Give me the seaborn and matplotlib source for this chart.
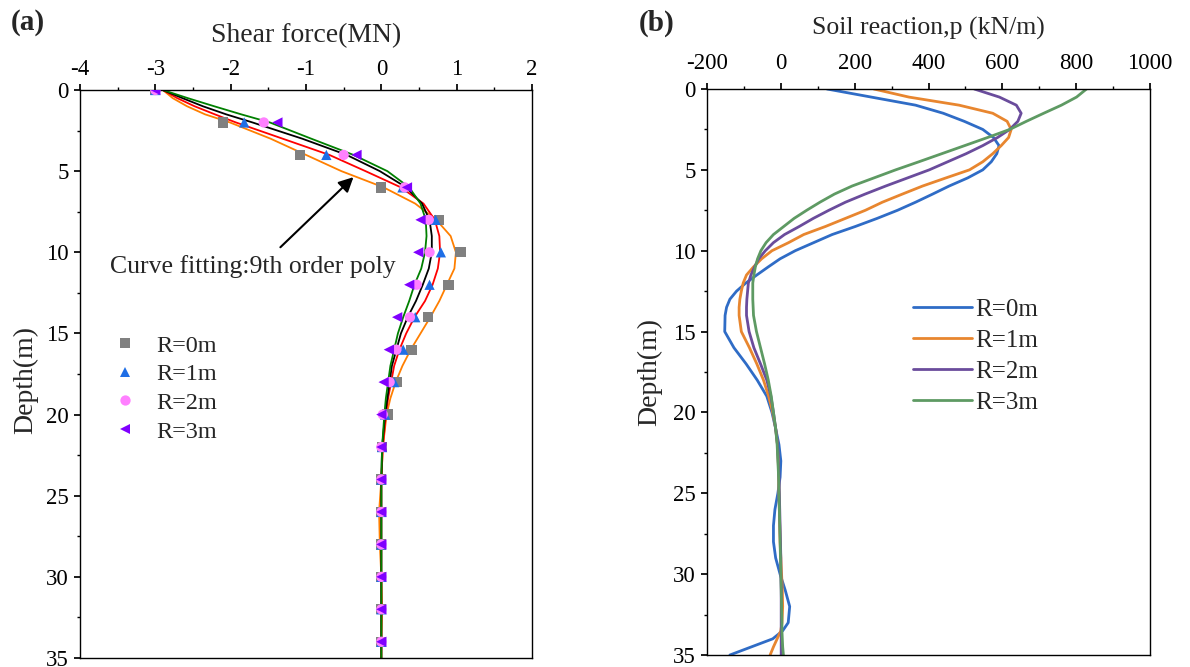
import numpy as np
import pandas as pd
import matplotlib
matplotlib.use("Agg")
import matplotlib.pyplot as plt
import seaborn as sns
from matplotlib.ticker import MultipleLocator

# ---------------- data: panel (a) shear force ----------------
marker_depth = [0, 2, 4, 6, 8, 10, 12, 14, 16, 18, 20, 22, 24, 26, 28, 30, 32, 34]
shear_R0 = [-3.00, -2.10, -1.08, 0.00, 0.77, 1.05, 0.89, 0.62, 0.40, 0.21, 0.08, 0.01, 0.0, 0.0, 0.0, 0.0, 0.0, 0.0]
shear_R1 = [-3.00, -1.82, -0.73, 0.28, 0.72, 0.79, 0.64, 0.45, 0.29, 0.17, 0.05, 0.01, 0.0, 0.0, 0.0, 0.0, 0.0, 0.0]
shear_R2 = [-3.00, -1.56, -0.50, 0.31, 0.63, 0.64, 0.47, 0.38, 0.20, 0.11, 0.02, 0.00, 0.0, 0.0, 0.0, 0.0, 0.0, 0.0]
shear_R3 = [-3.00, -1.38, -0.33, 0.34, 0.52, 0.49, 0.37, 0.21, 0.10, 0.03, 0.00, 0.00, 0.0, 0.0, 0.0, 0.0, 0.0, 0.0]

fit_depth = [0, 0.5, 1, 1.5, 2, 3, 4, 5, 6, 7, 8, 9, 10, 11, 12, 13, 14, 15, 16, 17, 18, 19, 20,
             22, 24, 26, 28, 30, 32, 34, 35]
fit_R0 = [-2.90, -2.77, -2.58, -2.34, -2.01, -1.47, -1.00, -0.53, 0.03, 0.45, 0.73, 0.92, 0.99, 0.97,
          0.87, 0.77, 0.65, 0.52, 0.39, 0.28, 0.19, 0.12, 0.07, 0.02, 0.0, -0.03, -0.02, 0.0, 0.01, 0.0, 0.0]
fit_R1 = [-2.90, -2.71, -2.48, -2.21, -1.93, -1.31, -0.69, -0.21, 0.26, 0.56, 0.71, 0.77, 0.78, 0.75,
          0.68, 0.58, 0.44, 0.33, 0.24, 0.17, 0.13, 0.09, 0.06, 0.02, 0.0, 0.0, 0.0, 0.0, 0.0, 0.0, 0.0]
fit_R2 = [-2.90, -2.64, -2.37, -2.06, -1.71, -1.05, -0.46, -0.02, 0.33, 0.54, 0.64, 0.67, 0.67, 0.63,
          0.55, 0.46, 0.35, 0.26, 0.20, 0.14, 0.11, 0.08, 0.05, 0.01, 0.0, 0.0, 0.0, 0.0, 0.0, 0.0, 0.0]
fit_R3 = [-2.90, -2.57, -2.22, -1.86, -1.48, -0.93, -0.37, 0.08, 0.37, 0.52, 0.59, 0.60, 0.58, 0.53,
          0.44, 0.37, 0.29, 0.22, 0.17, 0.12, 0.09, 0.06, 0.04, 0.01, 0.0, 0.0, 0.0, 0.0, 0.0, 0.0, 0.0]

# ---------------- data: panel (b) soil reaction ----------------
p_depth = [0, 0.5, 1, 1.5, 2, 2.5, 3, 3.5, 4, 4.5, 5, 5.5, 6, 6.5, 7, 7.5, 8, 8.5, 9, 9.5, 10, 10.5,
           11, 11.5, 12, 12.5, 13, 13.5, 14, 15, 16, 17, 18, 19, 20, 21, 22, 23, 24, 25, 26, 27, 28,
           29, 30, 31, 32, 33, 33.5, 34, 34.5, 35]
p_R0 = [125, 245, 365, 440, 497, 547, 576, 591, 585, 570, 547, 506, 456, 411, 365, 316, 261, 202, 139,
        89, 39, -2, -34, -65, -95, -120, -138, -147, -151, -152, -127, -94, -64, -38, -24, -14, -5, 0,
        -2, -8, -16, -20, -20, -14, -2, 12, 24, 20, 5, -22, -80, -138]
p_R1 = [252, 347, 483, 574, 613, 624, 617, 597, 574, 547, 511, 447, 384, 329, 275, 229, 175, 121, 62,
        21, -24, -52, -74, -93, -102, -107, -111, -113, -113, -107, -85, -65, -47, -33, -22, -14, -9,
        -7, -6, -5, -4, -3, -2, 0, 2, 4, 5, 3, 0, -10, -20, -29]
p_R2 = [524, 592, 638, 651, 642, 620, 587, 547, 502, 452, 402, 343, 284, 228, 175, 130, 88, 50, 10,
        -20, -42, -60, -71, -81, -88, -90, -92, -93, -93, -86, -73, -55, -38, -27, -20, -14, -9, -7,
        -5, -4, -3, -2, -1, 0, 0, 1, 1, 1, 1, 1, 1, 1]
p_R3 = [828, 801, 760, 712, 665, 620, 560, 498, 436, 374, 311, 252, 193, 145, 106, 70, 36, 8, -20,
        -40, -54, -63, -69, -73, -76, -76, -76, -75, -74, -66, -55, -44, -34, -26, -20, -14, -10, -8,
        -6, -5, -4, -3, -2, -1, 0, 1, 2, 3, 3, 4, 5, 7]

labels = ["R=0m", "R=1m", "R=2m", "R=3m"]
x_ticks_a = [-4, -3, -2, -1, 0, 1, 2]
x_ticks_b = [-200, 0, 200, 400, 600, 800, 1000]
y_ticks = [0, 5, 10, 15, 20, 25, 30, 35]

# ---------------- style ----------------
sns.set_theme(style="ticks")
plt.rcParams["font.family"] = ["Liberation Serif", "DejaVu Serif"]
plt.rcParams["axes.unicode_minus"] = False
plt.rcParams["axes.linewidth"] = 1.0
plt.rcParams["xtick.major.size"] = 4.5
plt.rcParams["ytick.major.size"] = 4.5
plt.rcParams["xtick.minor.size"] = 2.5
plt.rcParams["ytick.minor.size"] = 2.5
plt.rcParams["xtick.color"] = "black"
plt.rcParams["ytick.color"] = "black"
plt.rcParams["axes.edgecolor"] = "black"

FS_TICK = 16.5

fig = plt.figure(figsize=(11.9, 6.67), dpi=100)
ax1 = fig.add_axes([80 / 1190, 1 - 658 / 667, 452 / 1190, 568 / 667])
ax2 = fig.add_axes([707 / 1190, 1 - 655 / 667, 443 / 1190, 566 / 667])

# ---------------- panel (a) ----------------
fit_df = pd.concat([
    pd.DataFrame({"depth": fit_depth, "shear": v, "series": f"fit {lab}"})
    for v, lab in zip([fit_R0, fit_R1, fit_R2, fit_R3], labels)
])
fit_palette = {"fit R=0m": "#FF7F00", "fit R=1m": "#FF0000", "fit R=2m": "#000000", "fit R=3m": "#008000"}
sns.lineplot(data=fit_df, x="shear", y="depth", hue="series", palette=fit_palette,
             estimator=None, sort=False, linewidth=1.3, legend=False, ax=ax1, zorder=2)

pt_df = pd.concat([
    pd.DataFrame({"depth": marker_depth, "shear": v, "R": lab})
    for v, lab in zip([shear_R0, shear_R1, shear_R2, shear_R3], labels)
])
pt_palette = {"R=0m": "#808080", "R=1m": "#1E6EE6", "R=2m": "#FF80FF", "R=3m": "#8000FF"}
pt_markers = {"R=0m": "s", "R=1m": "^", "R=2m": "o", "R=3m": "<"}
sns.scatterplot(data=pt_df, x="shear", y="depth", hue="R", style="R", palette=pt_palette,
                markers=pt_markers, s=55, linewidth=0, ax=ax1, zorder=3)

ax1.set_xlim(-4, 2)
ax1.set_ylim(35, 0)
ax1.set_xticks(x_ticks_a)
ax1.set_yticks(y_ticks)
ax1.xaxis.set_minor_locator(MultipleLocator(0.5))
ax1.yaxis.set_minor_locator(MultipleLocator(2.5))
ax1.xaxis.set_ticks_position("top")
ax1.xaxis.set_label_position("top")
ax1.tick_params(axis="both", which="both", direction="out", labelsize=FS_TICK)
ax1.tick_params(axis="x", which="major", pad=3)
ax1.set_xlabel("Shear force(MN)", fontsize=20, labelpad=12)
ax1.set_ylabel("Depth(m)", fontsize=20)
ax1.yaxis.set_label_coords(-0.092, 0.49)
for s in ax1.spines.values():
    s.set_visible(True)

sns.move_legend(ax1, loc="upper left", bbox_to_anchor=(0.024, 0.608), frameon=False, title=None,
                fontsize=17.5, handlelength=1.0, handletextpad=0.78, labelspacing=0.276,
                markerscale=1.0)

ax1.annotate("", xy=(-0.37, 5.37), xytext=(-1.34, 9.69),
             arrowprops=dict(arrowstyle="-|>", color="black", lw=1.5, mutation_scale=22,
                             shrinkA=0, shrinkB=0))
ax1.text(-1.70, 10.85, "Curve fitting:9th order poly", ha="center", va="center", fontsize=18.5)

# ---------------- panel (b) ----------------
p_df = pd.concat([
    pd.DataFrame({"depth": p_depth, "p": v, "R": lab})
    for v, lab in zip([p_R0, p_R1, p_R2, p_R3], labels)
])
p_palette = {"R=0m": "#2F6CC6", "R=1m": "#E8862F", "R=2m": "#6A4C9C", "R=3m": "#5E9A63"}
sns.lineplot(data=p_df, x="p", y="depth", hue="R", palette=p_palette, estimator=None, sort=False,
             linewidth=2.0, ax=ax2)

ax2.set_xlim(-200, 1000)
ax2.set_ylim(35, 0)
ax2.set_xticks(x_ticks_b)
ax2.set_yticks(y_ticks)
ax2.xaxis.set_minor_locator(MultipleLocator(100))
ax2.yaxis.set_minor_locator(MultipleLocator(2.5))
ax2.xaxis.set_ticks_position("top")
ax2.xaxis.set_label_position("top")
ax2.tick_params(axis="both", which="both", direction="out", labelsize=FS_TICK)
ax2.tick_params(axis="x", which="major", pad=6)
ax2.set_xlabel("Soil reaction,p (kN/m)", fontsize=18.5, labelpad=13.5)
ax2.set_ylabel("Depth(m)", fontsize=20)
ax2.yaxis.set_label_coords(-0.102, 0.5)
for s in ax2.spines.values():
    s.set_visible(True)

sns.move_legend(ax2, loc="upper left", bbox_to_anchor=(0.414, 0.670), frameon=False, title=None,
                fontsize=18, handlelength=2.36, handletextpad=0.15, labelspacing=0.338)

fig.text(28 / 1190, 1 - 23 / 667, "(a)", fontsize=21, fontweight="bold", ha="center", va="center")
fig.text(657 / 1190, 1 - 23 / 667, "(b)", fontsize=21, fontweight="bold", ha="center", va="center")

fig.savefig("out.png", dpi=100)
